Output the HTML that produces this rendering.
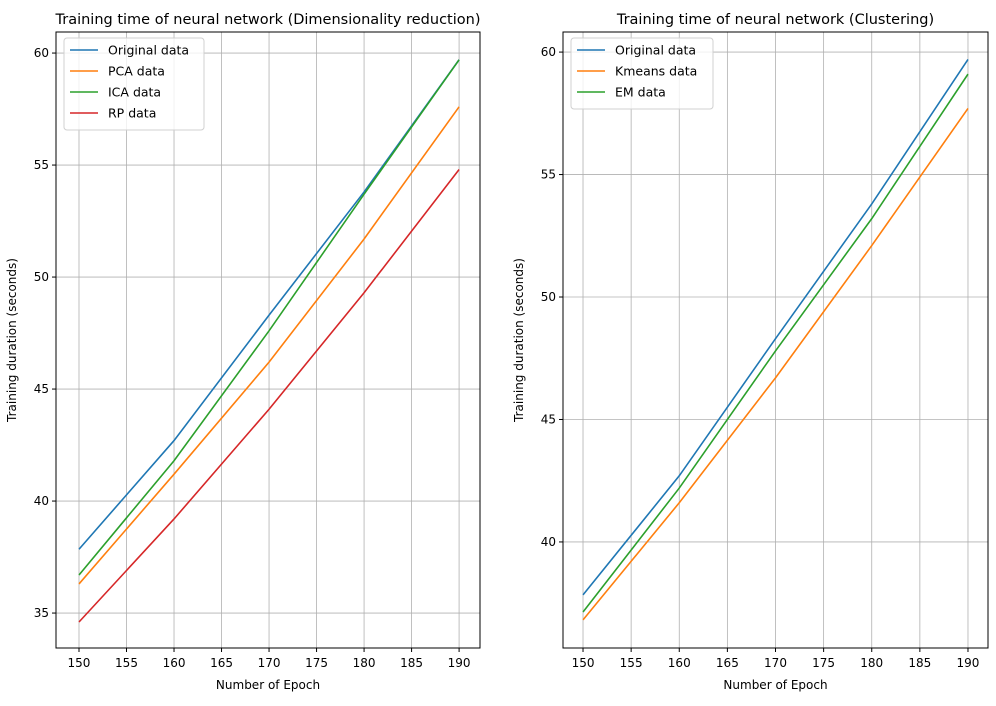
<!DOCTYPE html>
<html><head><meta charset="utf-8"><style>
body{margin:0;background:#fff;font-family:"Liberation Sans","DejaVu Sans",sans-serif}
svg text{font-family:"DejaVu Sans","Liberation Sans",sans-serif}
</style></head><body>
<svg id="c" width="996" height="701" xmlns="http://www.w3.org/2000/svg"></svg>
<script>
const epochs=[150,160,170,180,190];
const xTicks=[150,155,160,165,170,175,180,185,190];
const leftOriginal=[37.85,42.7,48.3,53.8,59.7];
const leftPCA=[36.3,41.2,46.2,51.7,57.6];
const leftICA=[36.7,41.8,47.6,53.7,59.7];
const leftRP=[34.6,39.2,44.1,49.3,54.8];
const leftYTicks=[35,40,45,50,55,60];
const rightOriginal=[37.84,42.7,48.3,53.8,59.7];
const rightKmeans=[36.82,41.6,46.7,52.1,57.7];
const rightEM=[37.14,42.2,47.8,53.2,59.1];
const rightYTicks=[40,45,50,55,60];
const NS="http://www.w3.org/2000/svg";
const svg=document.getElementById('c');
function mk(t,a,p){const e=document.createElementNS(NS,t);for(const k in a)e.setAttribute(k,a[k]);(p||svg).appendChild(e);return e;}
function panel(o){
  const g=mk('g',{});
  
  
  const sx=v=>o.x0+(v-o.xmin)/(o.xmax-o.xmin)*(o.x1-o.x0);
  const sy=v=>o.y1-(v-o.ymin)/(o.ymax-o.ymin)*(o.y1-o.y0);
  xTicks.forEach(t=>{
    const l=mk('line',{x1:sx(t),x2:sx(t),y1:o.y0,y2:o.y1,stroke:'#b0b0b0','stroke-width':0.8},g);
    
    mk('line',{x1:sx(t),x2:sx(t),y1:o.y1,y2:o.y1+4,stroke:'#000'},g);
    const tx=mk('text',{x:sx(t),y:o.y1+19,'text-anchor':'middle','font-size':12},g);tx.textContent=t;
    
  });
  o.yt.forEach(t=>{
    const l=mk('line',{x1:o.x0,x2:o.x1,y1:sy(t),y2:sy(t),stroke:'#b0b0b0','stroke-width':0.8},g);
    
    mk('line',{x1:o.x0-4,x2:o.x0,y1:sy(t),y2:sy(t),stroke:'#000'},g);
    const tx=mk('text',{x:o.x0-7,y:sy(t)+4,'text-anchor':'end','font-size':12},g);tx.textContent=t;
    
  });
  o.series.forEach(s=>{
    const p=mk('polyline',{points:epochs.map((e,i)=>sx(e)+','+sy(s.v[i])).join(' '),fill:'none',stroke:s.c,'stroke-width':1.6},g);
    
  });
  const r=mk('rect',{x:o.x0,y:o.y0,width:o.x1-o.x0,height:o.y1-o.y0,fill:'none',stroke:'#000','stroke-width':1},g);
  
  const ti=mk('text',{x:(o.x0+o.x1)/2,y:o.y0-8,'text-anchor':'middle','font-size':14.5},g);ti.textContent=o.title;
  
  const xl=mk('text',{x:(o.x0+o.x1)/2,y:o.y1+41,'text-anchor':'middle','font-size':12},g);xl.textContent='Number of Epoch';
  
  const yl=mk('text',{x:0,y:0,'text-anchor':'middle','font-size':12,transform:`translate(${o.x0-40},${(o.y0+o.y1)/2}) rotate(-90)`},g);yl.textContent='Training duration (seconds)';
  
  const lg=mk('g',{},g);
  mk('rect',{x:o.x0+8,y:o.y0+6,width:o.lw,height:o.series.length*21+8,rx:3,fill:'#fff','fill-opacity':0.8,stroke:'#d0d0d0'},lg);
  o.series.forEach((s,i)=>{
    const yy=o.y0+18+i*21;
    mk('line',{x1:o.x0+14,x2:o.x0+42,y1:yy,y2:yy,stroke:s.c,'stroke-width':1.6},lg);
    const t=mk('text',{x:o.x0+52,y:yy+4.5,'font-size':12.5},lg);t.textContent=s.label;
    
  });
}
panel({name:'dimensionality-reduction-chart',x0:56,x1:480,y0:32,y1:648,xmin:147.58,xmax:192.2,ymin:33.44,ymax:60.94,yt:leftYTicks,lw:140,
 title:'Training time of neural network (Dimensionality reduction)',
 series:[{v:leftOriginal,c:'#1f77b4',n:'original-line',label:'Original data'},{v:leftPCA,c:'#ff7f0e',n:'pca-line',label:'PCA data'},{v:leftICA,c:'#2ca02c',n:'ica-line',label:'ICA data'},{v:leftRP,c:'#d62728',n:'rp-line',label:'RP data'}]});
panel({name:'clustering-chart',x0:563,x1:988,y0:32,y1:648,xmin:147.92,xmax:192.08,ymin:35.67,ymax:60.82,yt:rightYTicks,lw:142,
 title:'Training time of neural network (Clustering)',
 series:[{v:rightOriginal,c:'#1f77b4',n:'original-line',label:'Original data'},{v:rightKmeans,c:'#ff7f0e',n:'kmeans-line',label:'Kmeans data'},{v:rightEM,c:'#2ca02c',n:'em-line',label:'EM data'}]});
</script>
</body></html>
